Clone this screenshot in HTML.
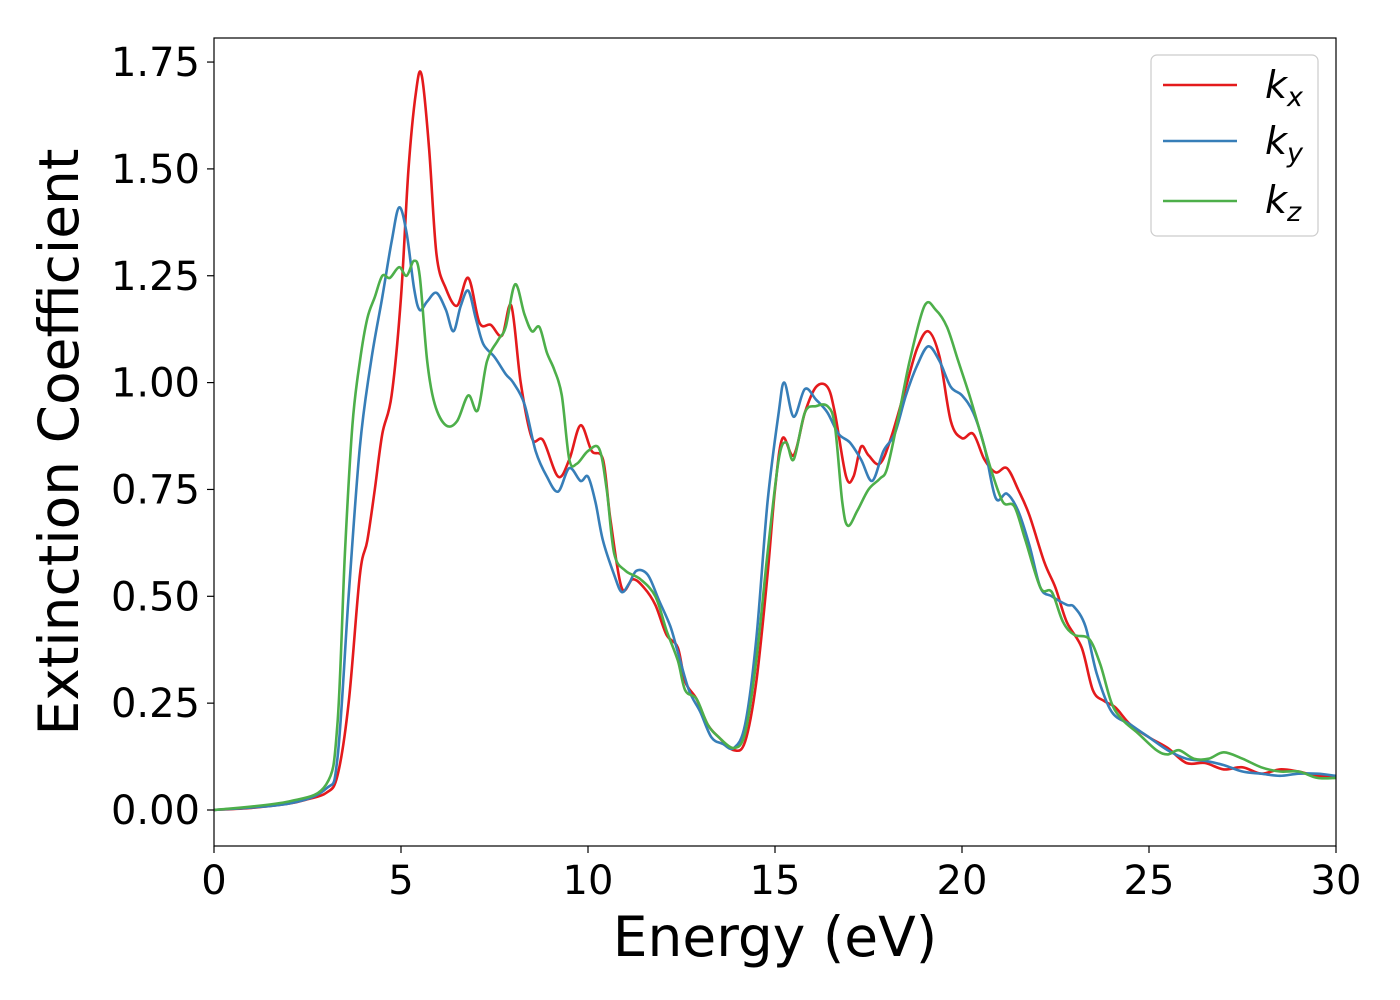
<!DOCTYPE html>
<html><head><meta charset="utf-8"><style>
html,body{margin:0;padding:0;background:#fff;}
svg{display:block;font-family:"DejaVu Sans","Liberation Sans",sans-serif;}
</style></head><body>
<svg id="chart" width="1400" height="1000" viewBox="0 0 1400 1000" xmlns="http://www.w3.org/2000/svg">
<rect width="1400" height="1000" fill="#fff"/>
<g id="series"></g>
<rect x="214" y="38" width="1122" height="808" fill="none" stroke="#000" stroke-width="1.2"/>
<g id="xticks"></g>
<g id="yticks"></g>
<text x="775" y="956" font-size="55" text-anchor="middle">Energy (eV)</text>
<text transform="translate(78,442) rotate(-90)" font-size="55" text-anchor="middle">Extinction Coefficient</text>
<g>
<rect x="1151" y="55" width="167" height="181" rx="6" fill="#fff" stroke="#ccc" stroke-width="1.2"/>
<line x1="1163" y1="85" x2="1237" y2="85" stroke="#e41a1c" stroke-width="2.5"/>
<line x1="1163" y1="141" x2="1237" y2="141" stroke="#377eb8" stroke-width="2.5"/>
<line x1="1163" y1="201" x2="1237" y2="201" stroke="#4daf4a" stroke-width="2.5"/>
<text x="1265" y="98" font-size="38" font-style="italic">k<tspan font-size="27" dy="8">x</tspan></text>
<text x="1265" y="154" font-size="38" font-style="italic">k<tspan font-size="27" dy="8">y</tspan></text>
<text x="1265" y="213" font-size="38" font-style="italic">k<tspan font-size="27" dy="8">z</tspan></text>
</g>
</svg>
<script>
const xTicks=[0,5,10,15,20,25,30];
const yTicks=[0,0.25,0.5,0.75,1.0,1.25,1.5,1.75];
const kxE=[0,1,2,2.5,3,3.3,3.6,3.9,4.1,4.3,4.5,4.75,5.0,5.2,5.4,5.55,5.75,5.95,6.2,6.5,6.8,7.1,7.4,7.7,7.95,8.2,8.5,8.8,9.2,9.5,9.8,10.1,10.4,10.6,10.9,11.2,11.5,11.8,12.1,12.4,12.6,12.9,13.2,13.5,13.9,14.2,14.5,14.8,15.0,15.2,15.5,15.8,16.1,16.4,16.6,16.9,17.1,17.3,17.5,17.8,18.1,18.5,18.8,19.1,19.4,19.7,20.0,20.3,20.6,20.9,21.2,21.5,21.8,22.2,22.5,22.8,23.2,23.5,23.8,24.1,24.5,25,25.5,26,26.5,27,27.5,28,28.5,29,29.5,30];
const kxV=[0,0.005,0.015,0.025,0.04,0.08,0.25,0.55,0.63,0.75,0.88,0.97,1.2,1.5,1.68,1.72,1.55,1.3,1.22,1.18,1.245,1.14,1.135,1.11,1.18,1.0,0.87,0.865,0.78,0.82,0.9,0.84,0.82,0.68,0.52,0.54,0.52,0.48,0.41,0.38,0.3,0.26,0.2,0.17,0.14,0.16,0.3,0.55,0.75,0.87,0.83,0.93,0.99,0.99,0.93,0.78,0.78,0.85,0.83,0.81,0.87,0.99,1.08,1.12,1.06,0.91,0.87,0.88,0.82,0.79,0.8,0.75,0.69,0.58,0.52,0.44,0.38,0.28,0.255,0.24,0.2,0.17,0.145,0.11,0.11,0.095,0.1,0.085,0.095,0.09,0.08,0.08];
const kyE=[0,2,3,3.3,3.6,3.9,4.2,4.5,4.75,4.95,5.15,5.35,5.5,5.7,5.95,6.2,6.4,6.6,6.8,7.0,7.2,7.5,7.8,8.0,8.3,8.6,8.9,9.2,9.5,9.8,10.0,10.2,10.4,10.7,10.9,11.1,11.3,11.6,11.9,12.2,12.4,12.7,13.0,13.3,13.6,13.9,14.2,14.5,14.8,15.1,15.25,15.5,15.8,16.1,16.4,16.7,17.0,17.3,17.6,17.9,18.2,18.5,18.8,19.1,19.4,19.7,20.0,20.3,20.6,20.9,21.2,21.5,21.8,22.1,22.4,22.8,23.0,23.3,23.6,24.0,24.5,25,25.5,26,26.5,27,27.5,28,28.5,29,29.5,30];
const kyV=[0,0.015,0.05,0.12,0.5,0.85,1.05,1.2,1.33,1.41,1.35,1.22,1.17,1.19,1.21,1.17,1.12,1.18,1.215,1.15,1.09,1.06,1.02,1.0,0.95,0.84,0.78,0.745,0.8,0.77,0.78,0.72,0.63,0.55,0.51,0.53,0.56,0.55,0.49,0.43,0.37,0.28,0.23,0.17,0.155,0.145,0.2,0.4,0.72,0.93,1.0,0.92,0.985,0.96,0.93,0.88,0.86,0.82,0.77,0.84,0.88,0.97,1.04,1.085,1.05,0.99,0.97,0.93,0.85,0.73,0.74,0.7,0.62,0.52,0.5,0.48,0.475,0.43,0.32,0.23,0.2,0.17,0.14,0.12,0.115,0.105,0.09,0.085,0.08,0.085,0.085,0.08];
const kzE=[0,2,3,3.3,3.5,3.7,3.9,4.1,4.3,4.5,4.7,4.95,5.15,5.35,5.5,5.7,5.9,6.2,6.5,6.8,7.05,7.3,7.6,7.8,8.05,8.3,8.5,8.7,8.9,9.1,9.3,9.5,9.7,10.0,10.3,10.5,10.7,11.0,11.4,11.8,12.1,12.4,12.6,12.9,13.2,13.5,13.9,14.2,14.5,14.8,15.1,15.3,15.5,15.8,16.1,16.4,16.6,16.8,16.95,17.2,17.5,17.8,18.0,18.3,18.6,19.0,19.3,19.6,19.9,20.2,20.5,20.8,21.1,21.4,21.7,22.1,22.4,22.7,23.0,23.4,23.7,24.0,24.3,24.7,25.2,25.5,25.8,26.2,26.6,27,27.5,28,28.5,29,29.5,30];
const kzV=[0,0.02,0.06,0.2,0.6,0.9,1.05,1.15,1.2,1.25,1.245,1.27,1.25,1.285,1.25,1.05,0.95,0.9,0.91,0.97,0.935,1.05,1.1,1.13,1.23,1.16,1.12,1.13,1.07,1.03,0.97,0.82,0.81,0.84,0.845,0.75,0.6,0.56,0.54,0.5,0.42,0.35,0.28,0.26,0.2,0.17,0.145,0.18,0.35,0.6,0.82,0.86,0.82,0.93,0.945,0.945,0.9,0.72,0.665,0.7,0.75,0.775,0.8,0.92,1.05,1.18,1.17,1.13,1.05,0.97,0.88,0.79,0.72,0.71,0.63,0.52,0.51,0.44,0.41,0.4,0.34,0.25,0.21,0.18,0.14,0.13,0.14,0.12,0.12,0.135,0.12,0.1,0.09,0.09,0.075,0.075];

const NS='http://www.w3.org/2000/svg';
const xS=e=>214+e*(1122/30);
const yS=v=>810-v*427.4;
function smoothPath(E,V){
  const p=E.map((e,i)=>[xS(e),yS(V[i])]);
  let d='M'+p[0][0].toFixed(1)+','+p[0][1].toFixed(1);
  for(let i=0;i<p.length-1;i++){
    const p0=p[Math.max(0,i-1)],p1=p[i],p2=p[i+1],p3=p[Math.min(p.length-1,i+2)];
    const c1=[p1[0]+(p2[0]-p0[0])/6,p1[1]+(p2[1]-p0[1])/6];
    const c2=[p2[0]-(p3[0]-p1[0])/6,p2[1]-(p3[1]-p1[1])/6];
    d+='C'+c1[0].toFixed(1)+','+c1[1].toFixed(1)+' '+c2[0].toFixed(1)+','+c2[1].toFixed(1)+' '+p2[0].toFixed(1)+','+p2[1].toFixed(1);
  }
  return d;
}
const sg=document.getElementById('series');
function addLine(E,V,color,name){
  const el=document.createElementNS(NS,'path');
  el.setAttribute('d',smoothPath(E,V));
  el.setAttribute('fill','none');
  el.setAttribute('stroke',color);
  el.setAttribute('stroke-width','2.6');
  el.setAttribute('stroke-linejoin','round');
  
  
  sg.appendChild(el);
}
addLine(kxE,kxV,'#e41a1c','line-kx');
addLine(kyE,kyV,'#377eb8','line-ky');
addLine(kzE,kzV,'#4daf4a','line-kz');

const xg=document.getElementById('xticks');
xTicks.forEach(t=>{
  const l=document.createElementNS(NS,'line');
  l.setAttribute('x1',xS(t));l.setAttribute('x2',xS(t));
  l.setAttribute('y1',846);l.setAttribute('y2',853);
  l.setAttribute('stroke','#000');l.setAttribute('stroke-width','1.2');
  
  
  xg.appendChild(l);
  const tx=document.createElementNS(NS,'text');
  tx.setAttribute('x',xS(t));tx.setAttribute('y',894);
  tx.setAttribute('font-size','40');tx.setAttribute('text-anchor','middle');
  tx.textContent=String(t);
  
  
  xg.appendChild(tx);
});
const yg=document.getElementById('yticks');
yTicks.forEach(t=>{
  const l=document.createElementNS(NS,'line');
  l.setAttribute('x1',207);l.setAttribute('x2',214);
  l.setAttribute('y1',yS(t));l.setAttribute('y2',yS(t));
  l.setAttribute('stroke','#000');l.setAttribute('stroke-width','1.2');
  
  
  yg.appendChild(l);
  const tx=document.createElementNS(NS,'text');
  tx.setAttribute('x',200);tx.setAttribute('y',yS(t)+14);
  tx.setAttribute('font-size','40');tx.setAttribute('text-anchor','end');
  tx.textContent=t.toFixed(2);
  
  
  yg.appendChild(tx);
});
</script>
</body></html>
